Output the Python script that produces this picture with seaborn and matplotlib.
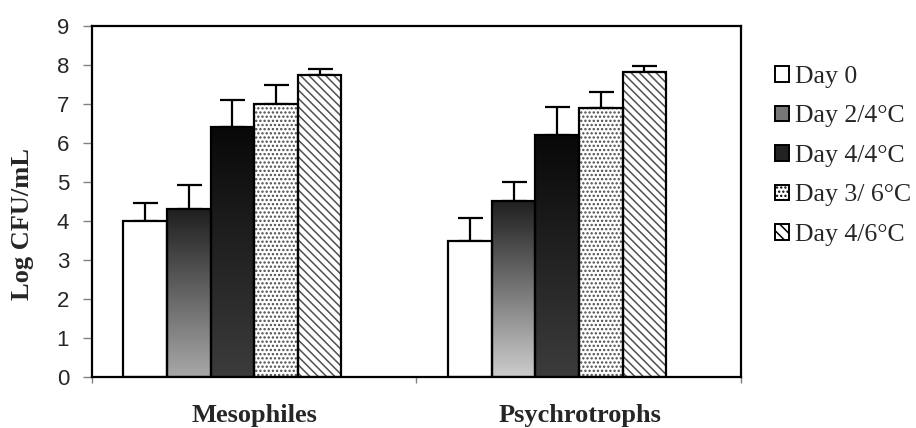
import numpy as np
import pandas as pd
import matplotlib
matplotlib.use("Agg")
import matplotlib.pyplot as plt
import matplotlib.patches as mpatches
from matplotlib.colors import LinearSegmentedColormap
import seaborn as sns

categories = ["Mesophiles", "Psychrotrophs"]
series = ["Day 0", "Day 2/4°C", "Day 4/4°C", "Day 3/ 6°C", "Day 4/6°C"]
day0 = [4.0, 3.5]
day2_4 = [4.32, 4.52]
day4_4 = [6.4, 6.2]
day3_6 = [7.0, 6.9]
day4_6 = [7.74, 7.82]
err_day0 = [0.45, 0.57]
err_day2_4 = [0.6, 0.48]
err_day4_4 = [0.7, 0.72]
err_day3_6 = [0.48, 0.4]
err_day4_6 = [0.15, 0.15]
yticks = [0, 1, 2, 3, 4, 5, 6, 7, 8, 9]

values = [day0, day2_4, day4_4, day3_6, day4_6]
errors = [err_day0, err_day2_4, err_day4_4, err_day3_6, err_day4_6]
df = pd.DataFrame({
    "cat": [c for s in series for c in categories],
    "series": [s for s in series for c in categories],
    "val": [v for vals in values for v in vals],
})

sns.set_style("white")
plt.rcParams["font.family"] = ["Liberation Sans", "DejaVu Sans"]
plt.rcParams["hatch.linewidth"] = 1.1
SERIF = ["Liberation Serif", "DejaVu Serif"]

fig = plt.figure(figsize=(9.16, 4.28), dpi=100)
ax = fig.add_axes([92 / 916, 51 / 428, 649 / 916, 351 / 428])

sns.barplot(data=df, x="cat", y="val", hue="series", order=categories,
            hue_order=series, errorbar=None, width=0.671, ax=ax,
            palette=["white"] * 5, edgecolor="black", linewidth=1.6,
            legend=False, saturation=1)

# gradient fills
grad_specs = {1: [("#1e1e1e", "#a8a8a8"), ("#1e1e1e", "#cdcdcd")],
              2: [("#080808", "#3c3c3c"), ("#080808", "#3c3c3c")]}
gradient = np.linspace(0, 1, 256).reshape(-1, 1)
for si, specs in grad_specs.items():
    for bar, (top, bot) in zip(ax.containers[si], specs):
        cmap = LinearSegmentedColormap.from_list("g", [top, bot])
        x0, y0, w, h = bar.get_x(), bar.get_y(), bar.get_width(), bar.get_height()
        im = ax.imshow(gradient, extent=(x0, x0 + w, y0, y0 + h), origin="upper",
                       cmap=cmap, aspect="auto", zorder=bar.get_zorder() - 0.1)
        im.set_clip_path(bar)
        bar.set_facecolor("none")

# hatch fills beneath the bar outlines
for si, hatch, col in [(3, "....", "#4a4a4a"), (4, "\\\\\\\\", "#505050")]:
    for bar in ax.containers[si]:
        ov = mpatches.Rectangle((bar.get_x(), bar.get_y()), bar.get_width(), bar.get_height(),
                                facecolor="white", hatch=hatch, edgecolor=col, linewidth=0,
                                zorder=bar.get_zorder() - 0.05)
        ax.add_patch(ov)
        bar.set_facecolor("none")

# error bars (upper only)
for si, errs in enumerate(errors):
    for bar, e in zip(ax.containers[si], errs):
        cx = bar.get_x() + bar.get_width() / 2
        ax.errorbar(cx, bar.get_height(), yerr=[[0], [e]], fmt="none", ecolor="black",
                    elinewidth=1.6, capsize=9, capthick=1.6, zorder=0.5)

ax.set_ylim(0, 9)
ax.set_xlim(-0.432, 1.566)
ax.set_yticks(yticks)
ax.set_yticklabels([str(t) for t in yticks], fontsize=16)
ax.tick_params(axis="y", direction="out", length=6.5, width=1, color="#808080", pad=10, left=True)
ax.set_xticks([-0.432, 0.5665, 1.566])
ax.set_xticklabels([])
ax.tick_params(axis="x", direction="out", length=4, width=1, color="#808080", bottom=True)
for s in ax.spines.values():
    s.set_color("black")
    s.set_linewidth(1.6)

for i, c in enumerate(categories):
    ax.text(i + 0.069, -0.128, c, transform=ax.get_xaxis_transform(), ha="center",
            va="baseline", fontsize=19, fontweight="bold", family=SERIF)
ax.set_xlabel("")
ax.set_ylabel("")
fig.text(22.5 / 916, 1 - 223.5 / 428, "Log CFU/mL", rotation=90, ha="center", va="center",
         fontsize=19, fontweight="bold", family=SERIF)

handles = [
    mpatches.Patch(facecolor="white", edgecolor="black", linewidth=1.4),
    mpatches.Patch(facecolor="#777777", edgecolor="black", linewidth=1.4),
    mpatches.Patch(facecolor="#222222", edgecolor="black", linewidth=1.4),
    mpatches.Patch(facecolor="white", edgecolor="black", linewidth=1.4, hatch="...."),
    mpatches.Patch(facecolor="white", edgecolor="black", linewidth=1.4, hatch="\\\\\\"),
]
leg = fig.legend(handles, series, loc="upper left", bbox_to_anchor=(775 / 916, 1 - 66 / 428),
                 frameon=False, handlelength=0.56, handleheight=0.56, handletextpad=0.2,
                 labelspacing=0.68, borderaxespad=0, borderpad=0,
                 prop={"family": SERIF, "size": 18.5})

fig.savefig("out.png", dpi=100)
